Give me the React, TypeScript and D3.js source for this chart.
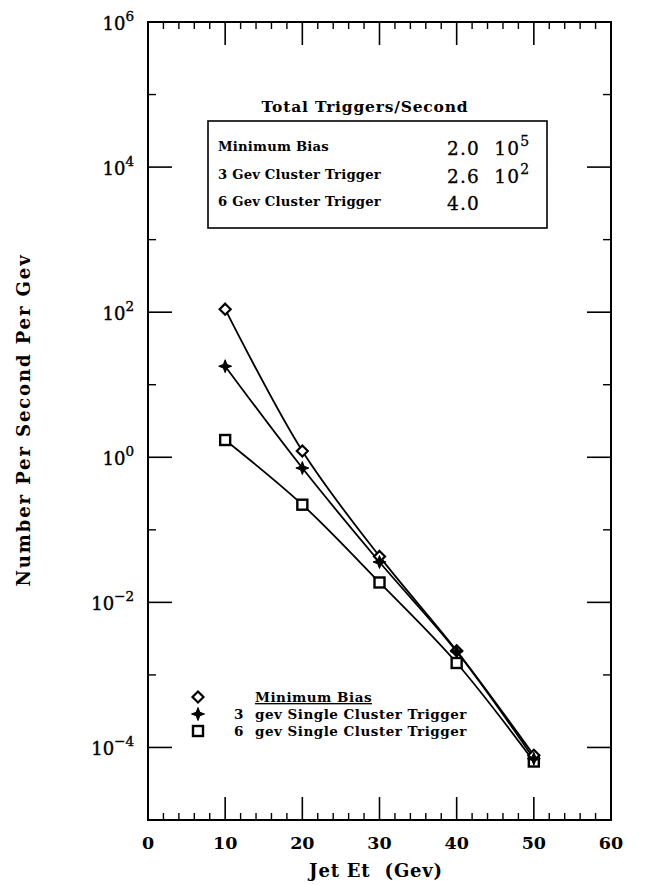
import React from "react";
import * as d3 from "d3";

const xValues = [10, 20, 30, 40, 50];
const minBias = [110, 1.22, 0.043, 0.00215, 7.8e-5];
const gev3 = [18, 0.71, 0.036, 0.0021, 7.0e-5];
const gev6 = [1.73, 0.222, 0.0188, 0.00146, 6.4e-5];

const xTickLabels = [0, 10, 20, 30, 40, 50, 60];
const yTickExps = [6, 4, 2, 0, -2, -4];

const boxRows = ["Minimum Bias", "3 Gev Cluster Trigger", "6 Gev Cluster Trigger"];
const boxMant = ["2.0", "2.6", "4.0"];
const boxExp = ["5", "2", ""];

const legendNums = ["", "3", "6"];
const legendText = ["Minimum Bias", "gev Single Cluster Trigger", "gev Single Cluster Trigger"];

const W = 654, H = 885;
const L = 148, R = 611, T = 22, B = 820;
const serif = "'DejaVu Serif', serif";

function Marker({ kind, x, y }: { kind: string; x: number; y: number }) {
  if (kind === "diamond") {
    const s = 5.5;
    return (
      <path d={`M${x},${y - s}L${x + s},${y}L${x},${y + s}L${x - s},${y}Z`}
        fill="white" stroke="black" strokeWidth={2.2} />
    );
  }
  if (kind === "star") {
    const s = 6.5, w = 1.8;
    return (
      <path d={`M${x},${y - s}L${x + w},${y - w}L${x + s},${y}L${x + w},${y + w}L${x},${y + s}L${x - w},${y + w}L${x - s},${y}L${x - w},${y - w}Z`}
        fill="black" stroke="black" strokeWidth={1} />
    );
  }
  const s = 5;
  return <rect x={x - s} y={y - s} width={2 * s} height={2 * s} fill="white" stroke="black" strokeWidth={2.4} />;
}

export default function App() {
  const x = d3.scaleLinear().domain([0, 60]).range([L, R]);
  const y = d3.scaleLog().domain([1e-5, 1e6]).range([B, T]);
  const line = d3
    .line<number>()
    .x((_, i) => x(xValues[i]))
    .y((d) => y(d))
    .curve(d3.curveCatmullRom.alpha(0.5));

  const series = [
    { vals: gev6, kind: "square" },
    { vals: minBias, kind: "diamond" },
    { vals: gev3, kind: "star" },
  ];

  const xMinor = d3.range(0, 61, 2).filter((v) => v % 10 !== 0);
  const yMinorExps = d3.range(-5, 7).filter((e) => !yTickExps.includes(e));

  return (
    <svg width={W} height={H} style={{ position: "absolute", left: 0, top: 0, background: "white" }}>
      <rect width={W} height={H} fill="white" />
      {/* frame */}
      <rect x={L} y={T} width={R - L} height={B - T} fill="none" stroke="black" strokeWidth={2} />
      {/* x ticks */}
      {xTickLabels.map((v) => (
        <g key={"xt" + v}>
          <line x1={x(v)} x2={x(v)} y1={B} y2={B - 23} stroke="black" strokeWidth={1.6} />
          <line x1={x(v)} x2={x(v)} y1={T} y2={T + 23} stroke="black" strokeWidth={1.6} />
          <text x={x(v)} y={849} textAnchor="middle" fontFamily={serif} fontWeight="bold" fontSize={17.5}>
            {v}
          </text>
        </g>
      ))}
      {xMinor.map((v) => (
        <g key={"xm" + v}>
          <line x1={x(v)} x2={x(v)} y1={B} y2={B - 7} stroke="black" strokeWidth={1.4} />
          <line x1={x(v)} x2={x(v)} y1={T} y2={T + 7} stroke="black" strokeWidth={1.4} />
        </g>
      ))}
      {/* y ticks */}
      {yTickExps.map((e) => (
        <g key={"yt" + e}>
          <line x1={L} x2={L + 24} y1={y(Math.pow(10, e))} y2={y(Math.pow(10, e))} stroke="black" strokeWidth={1.6} />
          <line x1={R} x2={R - 24} y1={y(Math.pow(10, e))} y2={y(Math.pow(10, e))} stroke="black" strokeWidth={1.6} />
          <text x={134} y={y(Math.pow(10, e)) + 8} textAnchor="end" fontFamily={serif} fontSize={18}
            stroke="black" strokeWidth={0.4}>
            10
            <tspan dy={-9} fontSize={13.5}>{e < 0 ? "\u2212" + Math.abs(e) : String(e)}</tspan>
          </text>
        </g>
      ))}
      {yMinorExps.map((e) => (
        <g key={"ym" + e}>
          <line x1={L} x2={L + 8} y1={y(Math.pow(10, e))} y2={y(Math.pow(10, e))} stroke="black" strokeWidth={1.4} />
          <line x1={R} x2={R - 8} y1={y(Math.pow(10, e))} y2={y(Math.pow(10, e))} stroke="black" strokeWidth={1.4} />
        </g>
      ))}
      {/* axis titles */}
      <text x={376} y={877} textAnchor="middle" fontFamily={serif} fontWeight="bold" fontSize={18} letterSpacing={0.8} style={{ whiteSpace: "pre" }}>
        {"Jet Et  (Gev)"}
      </text>
      <text transform="translate(30,420) rotate(-90)" textAnchor="middle" fontFamily={serif} fontWeight="bold" fontSize={18} letterSpacing={1.9}>
        Number Per Second Per Gev
      </text>
      {/* series */}
      {series.map((s, i) => (
        <path key={"l" + i} d={line(s.vals) || ""} fill="none" stroke="black" strokeWidth={1.8} />
      ))}
      {series.map((s, i) =>
        s.vals.map((v, j) => <Marker key={"m" + i + "-" + j} kind={s.kind} x={x(xValues[j])} y={y(v)} />)
      )}
      {/* totals box */}
      <text x={365} y={112} textAnchor="middle" fontFamily={serif} fontWeight="bold" fontSize={15.5} letterSpacing={0.8}>
        Total Triggers/Second
      </text>
      <rect x={208} y={121} width={339} height={107} fill="white" stroke="black" strokeWidth={1.6} />
      {boxRows.map((r, i) => (
        <g key={"br" + i}>
          <text x={218} y={151 + i * 27.5} fontFamily={serif} fontWeight="bold" fontSize={13.2} letterSpacing={0.2}>
            {r}
          </text>
          <text x={447} y={155 + i * 27.5} fontFamily={serif} fontSize={18.5} letterSpacing={1.2}
            stroke="black" strokeWidth={0.3} style={{ whiteSpace: "pre" }}>
            {boxMant[i] + (boxExp[i] ? "  10" : "")}
            {boxExp[i] ? <tspan dy={-9} fontSize={14}>{boxExp[i]}</tspan> : null}
          </text>
        </g>
      ))}
      {/* bottom legend */}
      {["diamond", "star", "square"].map((k, i) => (
        <g key={"lg" + i}>
          <Marker kind={k} x={198} y={697 + i * 17} />
          <text x={234} y={702 + i * 17} fontFamily={serif} fontWeight="bold" fontSize={13.5}>
            {legendNums[i]}
          </text>
          <text x={255} y={702 + i * 17} fontFamily={serif} fontWeight="bold" fontSize={13.5} letterSpacing={0.5}
            textDecoration={i === 0 ? "underline" : undefined}>
            {legendText[i]}
          </text>
        </g>
      ))}
    </svg>
  );
}
